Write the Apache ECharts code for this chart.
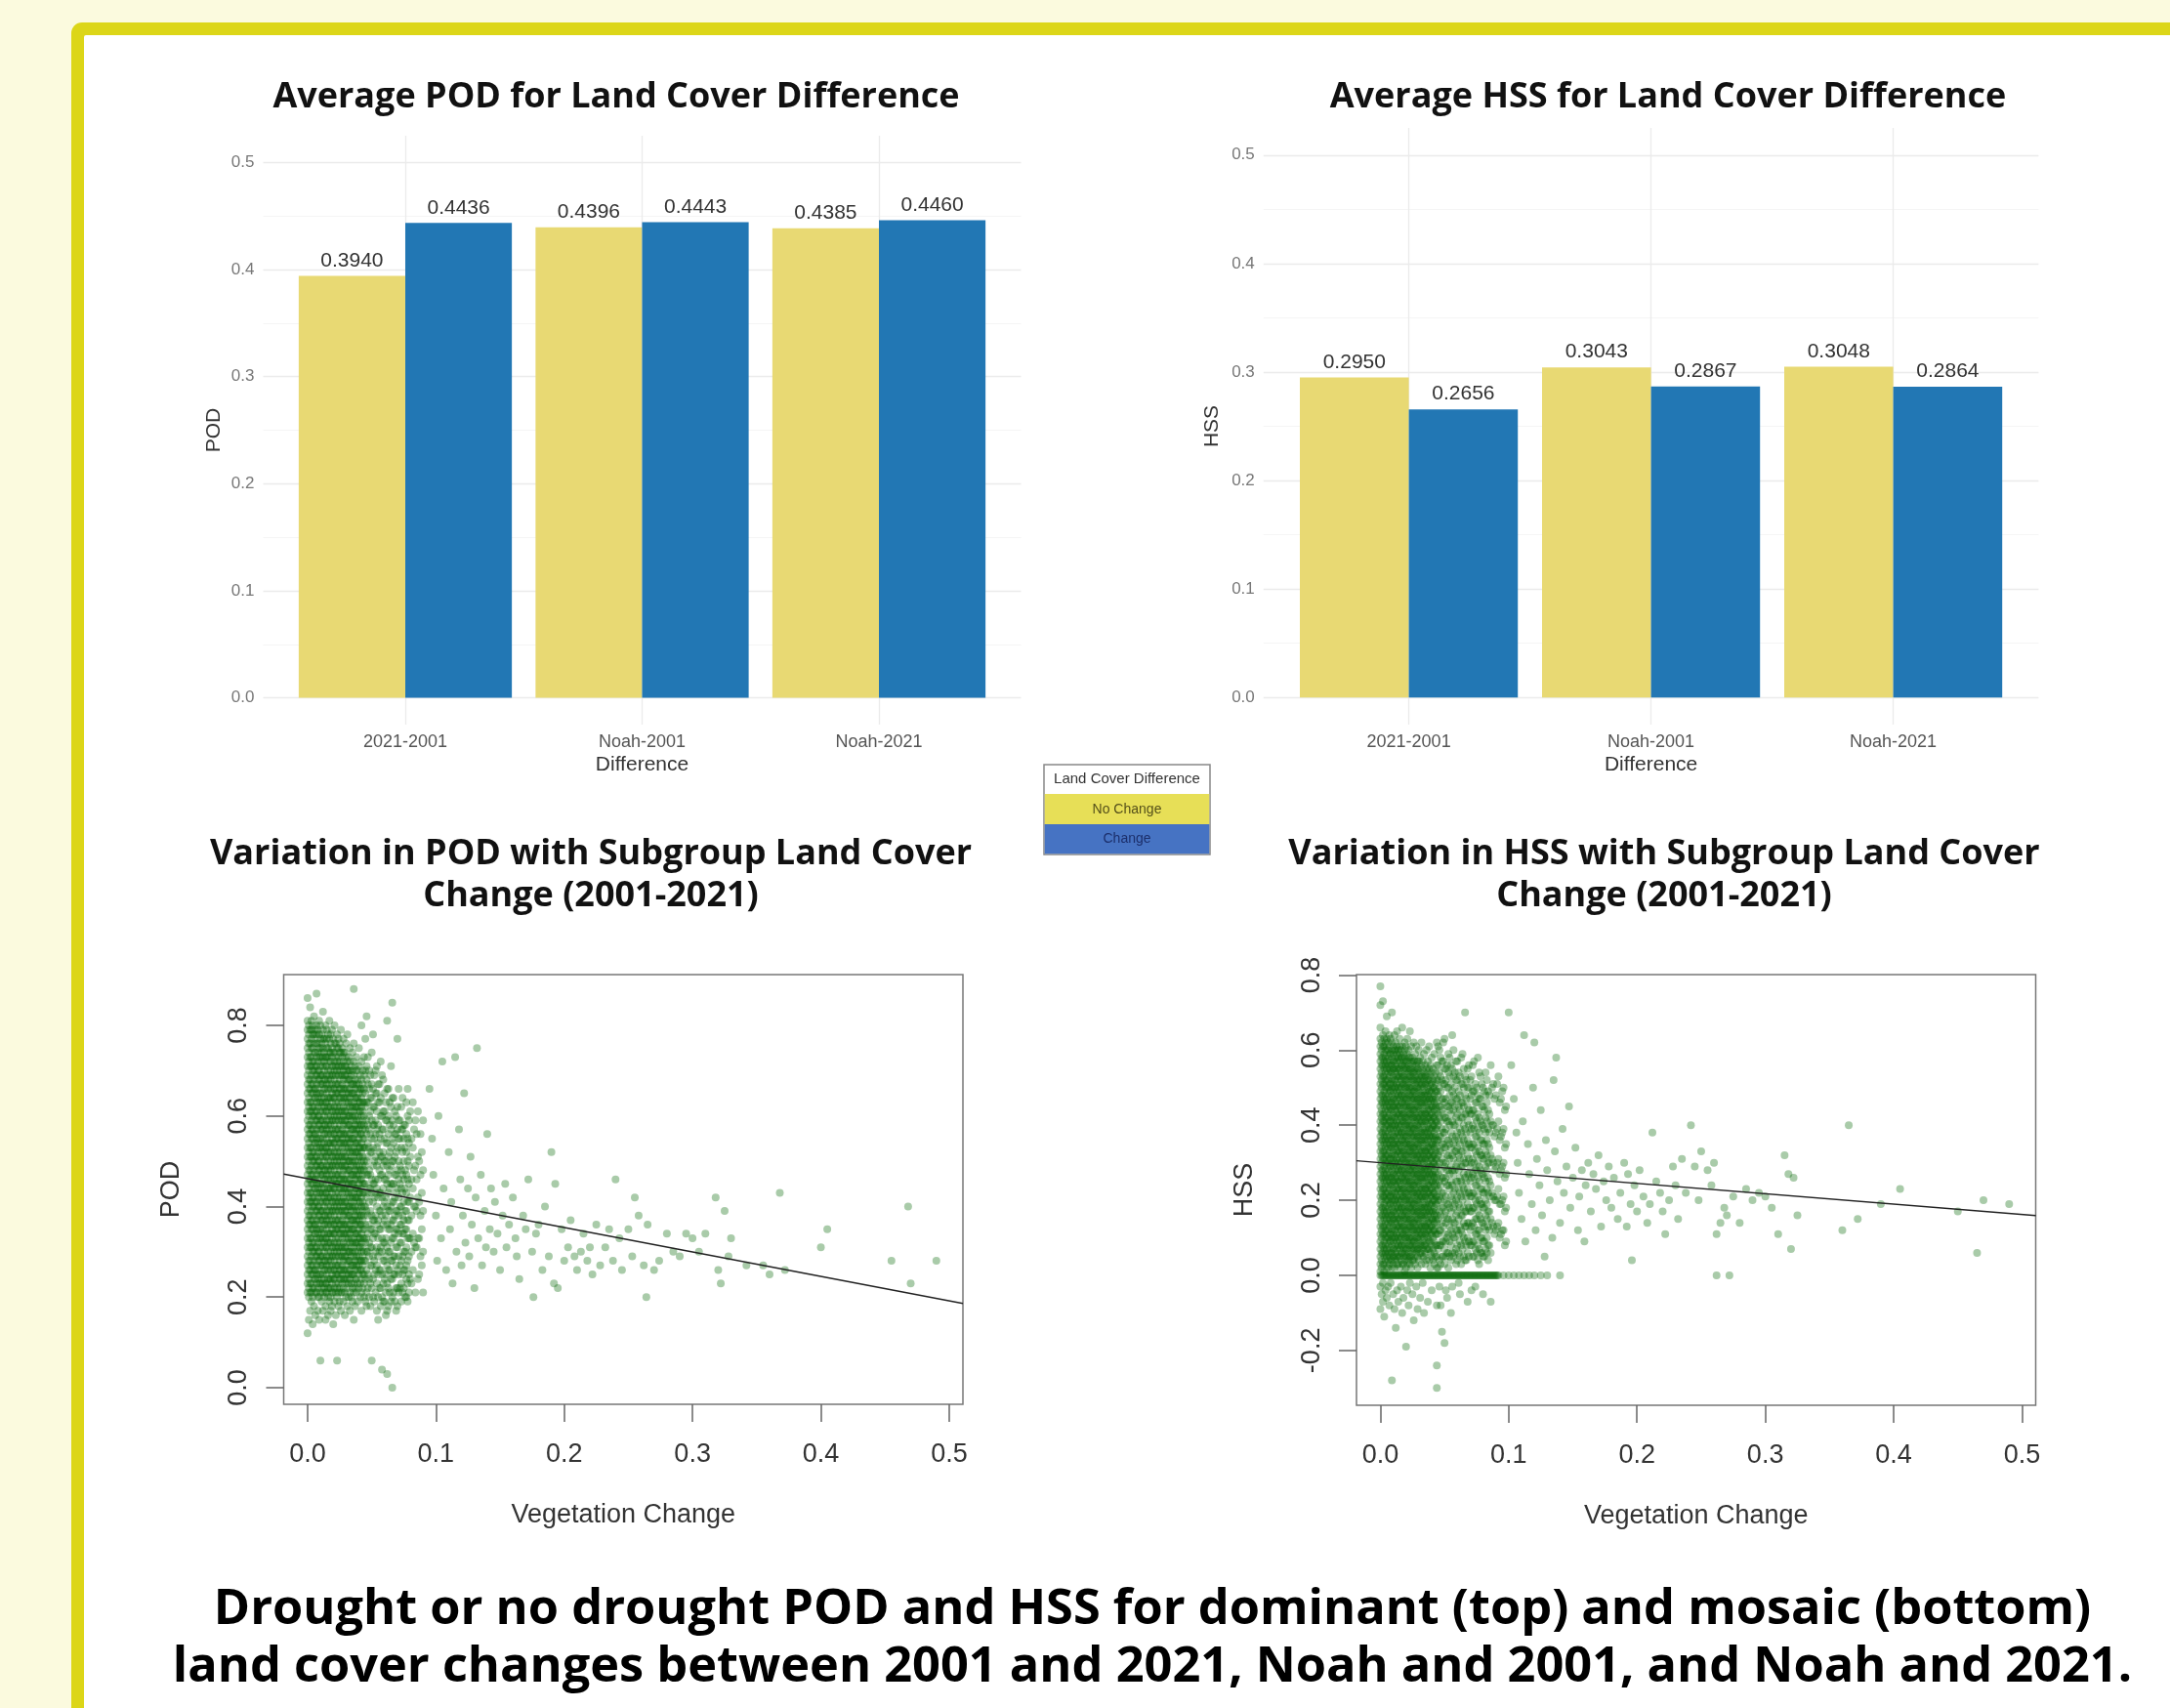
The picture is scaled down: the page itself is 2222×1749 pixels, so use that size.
<!DOCTYPE html>
<html><head><meta charset="utf-8">
<script src="https://cdn.jsdelivr.net/npm/echarts@6/dist/echarts.min.js"></script>
<style>html,body{margin:0;padding:0;background:#FBFADE;}#c{width:2222px;height:1749px;}</style>
</head><body><div id="c"></div>
<script>
// ---------- data ----------
const categories = ['2021-2001', 'Noah-2001', 'Noah-2021'];
const podNoChange = [0.3940, 0.4396, 0.4385];
const podChange   = [0.4436, 0.4443, 0.4460];
const hssNoChange = [0.2950, 0.3043, 0.3048];
const hssChange   = [0.2656, 0.2867, 0.2864];
const barTicks = [0, 0.1, 0.2, 0.3, 0.4, 0.5];
const barMinorTicks = [0.05, 0.15, 0.25, 0.35, 0.45];
const vegTicks = [0, 0.1, 0.2, 0.3, 0.4, 0.5];
const podTicks = [0, 0.2, 0.4, 0.6, 0.8];
const hssTicks = [-0.2, 0, 0.2, 0.4, 0.6, 0.8];
const podFit = [0.4616, -0.54];   // intercept, slope
const hssFit = [0.300, -0.276];   // intercept, slope

// POD scatter: columns [vegetation change x1000, [POD x100 ...]]
const podColumns = [
[0,[86,81,79,77,75,73,71,69,67,65,63,61,59,57,55,53,51,49,47,45,43,41,39,37,35,33,31,29,27,25,23,21,12]],
[1,[80,78,76,74,72,70,68,66,64,62,60,58,56,54,52,50,48,46,44,42,40,38,36,34,32,30,28,26,24,22,20,15]],
[2,[84,79,76,73,71,68,66,63,61,58,56,53,51,48,46,43,41,38,36,33,31,28,26,23,21,17]],
[3,[81,79,77,75,73,71,69,67,65,63,61,59,57,55,53,51,49,47,45,43,41,39,37,35,33,31,29,27,25,23,21,19]],
[4,[80,78,75,72,70,67,65,62,60,57,55,52,50,47,45,42,40,37,35,32,30,27,25,22,20,14]],
[5,[82,78,76,74,72,70,68,66,64,62,60,58,56,54,52,50,48,46,44,42,40,38,36,34,32,30,28,26,24,22,18]],
[6,[79,77,74,71,69,66,64,61,59,56,54,51,49,46,44,41,39,36,34,31,29,26,24,21,16]],
[7,[87,80,78,76,73,71,69,67,65,63,61,59,57,55,53,51,49,47,45,43,41,39,37,35,33,31,29,27,25,23,21]],
[8,[79,76,74,72,70,68,66,64,62,60,58,56,54,52,50,48,46,44,42,40,38,36,34,32,30,28,26,24,22,20,17]],
[9,[81,78,75,73,70,68,65,63,60,58,55,53,50,48,45,43,40,38,35,33,30,28,25,23,20,15]],
[10,[80,77,75,73,71,69,67,65,63,61,59,57,55,53,51,49,47,45,43,41,39,37,35,33,31,29,27,25,23,21,6]],
[11,[78,76,74,72,69,67,64,62,59,57,54,52,49,47,44,42,39,37,34,32,29,27,24,22,19]],
[12,[83,79,77,75,73,71,69,67,65,63,61,59,57,55,53,51,49,47,45,43,41,39,37,35,33,31,29,27,25,23,21,17]],
[13,[77,74,72,70,68,66,64,62,60,58,56,54,52,50,48,46,44,42,40,38,36,34,32,30,28,26,24,22,20]],
[14,[80,76,73,71,68,66,63,61,58,56,53,51,48,46,43,41,38,36,33,31,28,26,23,21,18,15]],
[15,[79,77,75,73,71,69,67,65,63,61,59,57,55,53,51,49,47,45,43,41,39,37,35,33,31,29,27,25,23,21]],
[16,[78,75,73,70,68,66,64,62,60,58,56,54,52,50,48,46,44,42,40,38,36,34,32,30,28,26,24,22,20,16]],
[17,[81,77,74,72,69,67,64,62,59,57,54,52,49,47,44,42,39,37,34,32,29,27,24,22,19]],
[18,[78,76,74,72,70,68,66,64,62,60,58,56,54,52,50,48,46,44,42,40,38,36,34,32,30,28,26,24,22,20,17]],
[19,[79,75,73,71,69,67,65,63,61,59,57,55,53,51,49,47,45,43,41,39,37,35,33,31,29,27,25,23,21,18]],
[20,[77,74,71,69,66,64,61,59,56,54,51,49,46,44,41,39,36,34,31,29,26,24,21,14]],
[21,[80,76,74,72,70,68,66,64,62,60,58,56,54,52,50,48,46,44,42,40,38,36,34,32,30,28,26,24,22,19]],
[22,[76,73,71,69,67,65,63,61,59,57,55,53,51,49,47,45,43,41,39,37,35,33,31,29,27,25,23,21,16]],
[23,[78,75,72,70,67,65,62,60,57,55,52,50,47,45,42,40,37,35,32,30,27,25,22,20,6]],
[24,[77,75,73,71,69,67,65,63,61,59,57,55,53,51,49,47,45,43,41,39,37,35,33,31,29,27,25,23,21,18]],
[25,[76,74,72,70,68,66,64,62,60,58,56,54,52,50,48,46,44,42,40,38,36,34,32,30,28,26,24,22,19]],
[26,[79,74,71,69,66,64,61,59,56,54,51,49,46,44,41,39,36,34,31,29,26,24,21,17]],
[27,[75,73,71,69,67,65,63,61,59,57,55,53,51,49,47,45,43,41,39,37,35,33,31,29,27,25,23,21]],
[28,[77,74,72,70,68,66,64,62,60,58,56,54,52,50,48,46,44,42,40,38,36,34,32,30,28,26,24,22,19]],
[29,[74,71,69,66,64,61,59,56,54,51,49,46,44,41,39,36,34,31,29,26,24,21,16]],
[30,[76,73,71,69,67,65,63,61,59,57,55,53,51,49,47,45,43,41,39,37,35,33,31,29,27,25,23,20]],
[31,[78,72,70,68,66,64,62,60,58,56,54,52,50,48,46,44,42,40,38,36,34,32,30,28,26,24,22,18]],
[32,[73,70,68,65,63,60,58,55,53,50,48,45,43,40,38,35,33,30,28,25,23,20]],
[33,[75,72,70,68,66,64,62,60,58,56,54,52,50,48,46,44,42,40,38,36,34,32,30,28,26,24,21,17]],
[34,[71,69,67,65,63,61,59,57,55,53,51,49,47,45,43,41,39,37,35,33,31,29,27,25,23,20]],
[35,[74,70,67,65,62,60,57,55,52,50,47,45,42,40,37,35,32,30,27,25,22,19]],
[36,[88,76,72,69,67,65,63,61,59,57,55,53,51,49,47,45,43,41,39,37,35,33,31,29,27,25,23,21,15]],
[37,[71,68,66,64,62,60,58,56,54,52,50,48,46,44,42,40,38,36,34,32,30,28,26,24,22,18]],
[38,[73,70,67,64,62,59,57,54,52,49,47,44,42,39,37,34,32,29,27,24,21]],
[39,[70,68,66,64,62,60,58,56,54,52,50,48,46,44,42,40,38,36,34,32,30,28,26,23,19]],
[40,[75,71,67,65,63,61,59,57,55,53,51,49,47,45,43,41,39,37,35,33,31,29,27,25,22]],
[41,[69,66,63,61,58,56,53,51,48,46,43,41,38,36,33,31,28,26,23,20]],
[42,[80,72,68,66,64,62,60,58,56,54,52,50,48,46,44,42,40,38,36,34,32,30,28,26,24,21,17]],
[43,[70,67,65,63,61,59,57,55,53,51,49,47,45,43,41,39,37,35,33,31,29,27,25,22]],
[44,[73,69,66,63,60,58,55,53,50,48,45,43,40,38,35,33,30,28,25,23,20]],
[45,[77,70,65,62,57,53,49,45,40,36,32,28,24,19]],
[46,[82,71,68,63,59,56,50,47,42,39,33,30,26,21,18]],
[47,[73,67,63,58,54,51,47,43,38,34,30,25,22]],
[48,[70,66,60,57,53,48,44,41,36,32,29,24,20]],
[49,[69,64,61,56,52,47,44,39,35,31,27,23,18]],
[50,[74,67,64,59,55,52,46,43,38,35,31,27,22,6]],
[51,[78,66,62,58,53,49,45,41,37,33,29,24,20]],
[52,[69,62,58,55,50,45,42,37,34,28,25,19]],
[53,[70,65,59,56,51,46,43,38,34,30,26,21]],
[54,[71,65,61,57,53,49,44,40,36,31,27,23,17]],
[55,[67,63,58,54,50,46,42,37,33,29,25,20,15]],
[56,[67,63,56,52,48,43,39,35,30,26,22]],
[57,[72,64,60,55,51,47,43,39,35,31,26,22,18]],
[58,[69,60,57,51,47,42,38,33,30,25,20,4]],
[59,[68,61,57,52,49,44,40,36,32,28,23,19]],
[60,[65,61,55,50,46,41,37,32,28,24,19]],
[61,[63,59,54,50,46,42,38,33,29,25,21,16]],
[62,[81,66,59,54,49,45,40,36,31,27,23,17,3]],
[63,[66,60,56,51,47,43,39,35,30,26,22,18]],
[64,[63,58,52,48,44,39,35,30,26,21]],
[65,[71,62,57,53,49,45,40,36,32,28,24,19]],
[66,[85,64,59,55,50,45,41,37,33,28,24,20,0]],
[67,[64,58,54,50,45,41,37,33,29,25,21]],
[68,[61,56,51,47,42,38,34,29,25,19]],
[69,[60,56,52,47,43,39,35,31,27,22,17]],
[70,[77,62,57,53,48,44,39,35,31,26,22,18]],
[71,[66,59,55,50,46,42,38,34,29,25,21]],
[72,[59,55,49,45,40,36,32,27,22]],
[73,[62,57,53,48,44,40,36,32,28,23,19]],
[74,[64,57,52,47,43,38,34,29,25,21]],
[75,[58,55,50,46,41,37,34,30,26,22]],
[76,[58,53,48,44,39,35,30,26,20]],
[77,[63,56,52,47,43,39,35,31,27,24,20]],
[78,[66,60,55,50,46,41,37,33,28,23,19]],
[79,[59,54,49,45,41,37,33,29,25,21]],
[80,[61,51,42,33,24]],
[81,[55,46,38,30,23]],
[82,[63,53,44,34,26]],
[83,[57,48,40,32]],
[84,[59,49,40,31,21]],
[85,[56,46,39,31]],
[86,[61,51,42,33,24]],
[87,[50,41,33,25]],
[88,[56,47,38,29]],
[89,[52,43,35,27]],
[90,[59,48,39,30,21]]
];
// POD scatter: individual points [x1000, y100]
const podPoints = [
[95,66],[97,55],[98,47],[100,38],[101,28],[102,60],[104,33],[105,72],[106,44],[108,26],[110,52],[111,35],[112,41],[113,23],[115,73],[116,30],[118,57],[119,46],[120,27],[121,38],[122,65],[123,32],[125,44],[126,29],[127,51],[128,36],[130,22],[131,42],[132,75],[133,33],[135,47],[136,27],[138,39],[139,31],[140,56],[142,35],[143,44],[145,30],[146,41],[148,34],[150,26],[152,38],[154,45],[155,31],[157,36],[160,42],[162,33],[163,29],[165,24],[168,38],[170,35],[172,46],[175,30],[176,20],[178,34],[180,36],[183,26],[185,40],[188,29],[190,52],[192,23],[193,45],[195,22],[198,35],[200,28],[203,31],[205,37],[208,29],[210,26],[213,30],[215,34],[218,28],[220,31],[222,25],[225,36],[228,27],[232,31],[235,35],[238,28],[240,46],[243,33],[245,26],[250,35],[253,29],[255,42],[258,38],[262,27],[264,20],[265,36],[270,26],[274,28],[280,34],[285,30],[290,29],[295,34],[300,33],[305,30],[310,34],[318,42],[320,26],[322,23],[325,39],[328,29],[330,33],[342,27],[355,27],[360,25],[368,43],[372,26],[400,31],[405,35],[455,28],[468,40],[470,23],[490,28]
];

// HSS scatter: columns [x1000, [HSS x100 ...]]
const hssColumns = [
[0,[77,72,66,63,61,59,57,55,53,51,49,47,45,43,41,39,37,35,33,31,29,27,25,23,21,19,17,15,13,11,9,7,5,3,1,-3,-9]],
[1,[62,60,58,56,54,52,50,48,46,44,42,40,38,36,34,32,30,28,26,24,22,20,18,16,14,12,10,8,6,4,2,-5]],
[2,[73,64,61,58,56,53,51,48,46,43,41,38,36,33,31,28,26,23,21,18,16,13,11,8,6,3,-2,-7]],
[3,[63,61,59,57,55,53,51,49,47,45,43,41,39,37,35,33,31,29,27,25,23,21,19,17,15,13,11,9,7,5,3,1,-11]],
[4,[65,62,60,58,56,54,52,50,48,46,44,42,40,38,36,34,32,30,28,26,24,22,20,18,16,14,12,10,8,6,4,-4]],
[5,[69,63,60,57,55,52,50,47,45,42,40,37,35,32,30,27,25,22,20,17,15,12,10,7,5,2,-6]],
[6,[62,60,58,56,54,52,50,48,46,44,42,40,38,36,34,32,30,28,26,24,22,20,18,16,14,12,10,8,6,4,2,-3]],
[7,[64,61,59,57,55,53,51,49,47,45,43,41,39,37,35,33,31,29,27,25,23,21,19,17,15,13,11,9,7,5,3,-8]],
[8,[63,59,56,54,51,49,46,44,41,39,36,34,31,29,26,24,21,19,16,14,11,9,6,4,-2]],
[9,[70,62,60,58,56,54,52,50,48,46,44,42,40,38,36,34,32,30,28,26,24,22,20,18,16,14,12,10,8,6,4,2,-28]],
[10,[61,59,57,55,53,51,49,47,45,43,41,39,37,35,33,31,29,27,25,23,21,19,17,15,13,11,9,7,5,3,-5]],
[11,[64,60,57,55,52,50,47,45,42,40,37,35,32,30,27,25,22,20,17,15,12,10,7,5,2,-9]],
[12,[62,60,58,56,54,52,50,48,46,44,42,40,38,36,34,32,30,28,26,24,22,20,18,16,14,12,10,8,6,4,-14]],
[13,[65,61,59,57,55,53,51,49,47,45,43,41,39,37,35,33,31,29,27,25,23,21,19,17,15,13,11,9,7,5,3,-4]],
[14,[60,58,55,53,50,48,45,43,40,38,35,33,30,28,25,23,20,18,15,13,10,8,5,3,-7]],
[15,[63,61,59,57,55,53,51,49,47,45,43,41,39,37,35,33,31,29,27,25,23,21,19,17,15,13,11,9,7,5,2]],
[16,[60,58,56,54,52,50,48,46,44,42,40,38,36,34,32,30,28,26,24,22,20,18,16,14,12,10,8,6,4,-3]],
[17,[66,61,58,56,53,51,48,46,43,41,38,36,33,31,28,26,23,21,18,16,13,11,8,6,3,-10]],
[18,[59,57,55,53,51,49,47,45,43,41,39,37,35,33,31,29,27,25,23,21,19,17,15,13,11,9,7,5,3,-6]],
[19,[62,60,58,56,54,52,50,48,46,44,42,40,38,36,34,32,30,28,26,24,22,20,18,16,14,12,10,8,6,4,1]],
[20,[61,57,55,52,50,47,45,42,40,37,35,32,30,27,25,22,20,17,15,12,10,7,5,2,-19]],
[21,[63,59,57,55,53,51,49,47,45,43,41,39,37,35,33,31,29,27,25,23,21,19,17,15,13,11,9,7,5,3,-4]],
[22,[60,58,56,54,52,50,48,46,44,42,40,38,36,34,32,30,28,26,24,22,20,18,16,14,12,10,8,6,4,-8]],
[23,[65,58,55,53,50,48,45,43,40,38,35,33,30,28,25,23,20,18,15,13,10,8,5,3,-2]],
[24,[61,57,55,53,51,49,47,45,43,41,39,37,35,33,31,29,27,25,23,21,19,17,15,13,11,9,7,5,2]],
[25,[58,56,54,52,50,48,46,44,42,40,38,36,34,32,30,28,26,24,22,20,18,16,14,12,10,8,6,4,-5]],
[26,[62,57,54,52,49,47,44,42,39,37,34,32,29,27,24,22,19,17,14,12,9,7,4,-12]],
[27,[59,57,55,53,51,49,47,45,43,41,39,37,35,33,31,29,27,25,23,21,19,17,15,13,11,9,7,5,3]],
[28,[61,56,54,52,50,48,46,44,42,40,38,36,34,32,30,28,26,24,22,20,18,16,14,12,10,8,6,-3]],
[29,[57,55,52,50,47,45,42,40,37,35,32,30,27,25,22,20,17,15,12,10,7,5,2,-9]],
[30,[60,57,55,53,51,49,47,45,43,41,39,37,35,33,31,29,27,25,23,21,19,17,15,13,11,9,7,4]],
[31,[58,54,52,50,48,46,44,42,40,38,36,34,32,30,28,26,24,22,20,18,16,14,12,10,8,6,-6]],
[32,[62,56,53,51,48,46,43,41,38,36,33,31,28,26,23,21,18,16,13,11,8,6,3]],
[33,[57,55,53,51,49,47,45,43,41,39,37,35,33,31,29,27,25,23,21,19,17,15,13,11,9,7,5,-2]],
[34,[59,54,52,50,48,46,44,42,40,38,36,34,32,30,28,26,24,22,20,18,16,14,12,10,8,5,-10]],
[35,[56,53,51,48,46,43,41,38,36,33,31,28,26,23,21,18,16,13,11,8,6,3]],
[36,[60,55,53,51,49,47,45,43,41,39,37,35,33,31,29,27,25,23,21,19,17,15,13,11,9,7,4]],
[37,[57,54,52,50,48,46,44,42,40,38,36,34,32,30,28,26,24,22,20,18,16,14,12,10,7,-7]],
[38,[61,55,52,49,47,44,42,39,37,34,32,29,27,24,22,19,17,14,12,9,7,4]],
[39,[56,53,51,49,47,45,43,41,39,37,35,33,31,29,27,25,23,21,19,17,15,13,11,9,6,2]],
[40,[58,54,51,49,47,45,43,41,39,37,35,33,31,29,27,25,23,21,19,17,15,13,11,8,5,-4]],
[41,[55,52,50,47,45,42,40,37,35,32,30,27,25,22,20,17,15,12,10,7,4]],
[42,[59,53,50,48,46,44,42,40,38,36,34,32,30,28,26,24,22,20,18,16,14,12,9,6,3]],
[43,[54,51,49,47,45,43,41,39,37,35,33,31,29,27,25,23,21,19,17,15,13,11,8,5]],
[44,[62,56,52,49,46,44,41,39,36,34,31,29,26,24,21,19,16,14,11,8,5,2,-8,-24,-30]],
[45,[61,56,52,48,43,40,36,32,27,23,20,15,11,7,2]],
[46,[60,54,50,45,42,37,33,30,25,21,17,12,8,4,-3]],
[47,[58,53,49,45,41,37,33,28,24,20,16,12,8,3,-8]],
[48,[57,52,47,44,39,35,31,26,22,18,14,9,5,-15]],
[49,[62,57,51,47,43,38,35,30,26,22,18,13,9,5]],
[50,[63,55,51,46,42,38,34,29,25,20,16,11,7,3,-18]],
[51,[55,52,47,42,39,34,30,26,21,17,14,9,5,-4]],
[52,[56,50,45,41,36,32,28,24,19,15,10,6,-6]],
[53,[59,54,50,45,41,36,32,28,24,19,15,11,6,2]],
[54,[58,53,48,44,40,35,31,27,23,18,13,9,5]],
[55,[56,51,46,43,38,34,29,25,21,17,12,8,4,-10]],
[56,[64,55,49,46,41,37,32,28,24,20,15,11,6,-3]],
[57,[60,53,48,44,40,35,31,27,22,18,14,10,5]],
[58,[54,50,45,40,36,33,28,23,19,14,10,6]],
[59,[57,52,47,42,37,33,29,25,20,16,12,7,3]],
[60,[57,52,47,43,38,34,30,25,21,17,12,8,4]],
[61,[54,49,45,41,36,32,28,23,19,15,11,6,-2]],
[62,[53,48,44,39,35,31,26,22,18,13,9,5,-5]],
[63,[58,51,46,42,38,33,29,25,21,16,12,8,3]],
[64,[59,51,46,42,37,33,29,24,20,16,11,7]],
[65,[55,50,45,40,36,31,27,23,18,14,10,5]],
[66,[70,53,48,43,39,35,30,26,22,17,13,9,4]],
[67,[52,47,43,38,34,30,25,21,17,13,8,4]],
[68,[55,50,45,41,36,32,27,23,19,14,10,6,-7]],
[69,[56,50,44,40,35,31,27,22,18,14,9,5]],
[70,[52,47,43,38,34,29,25,21,17,12,8]],
[71,[53,48,43,39,34,30,26,21,17,13,8,-4]],
[72,[56,49,44,40,35,31,27,22,18,14,9,5]],
[73,[57,49,44,39,35,30,26,22,18,13,9,5]],
[74,[51,46,42,37,33,28,24,20,15,11,7,-3]],
[75,[50,46,41,37,32,28,24,19,15,11,6]],
[76,[58,48,43,39,34,30,26,21,17,12,8,4]],
[77,[54,47,42,38,33,29,25,20,16,12,7,3]],
[78,[53,47,41,36,32,28,23,19,15,10,6]],
[79,[51,45,40,36,32,27,23,19,14,10,6]],
[80,[50,45,40,35,31,27,22,18,14,9,5,-5]],
[81,[49,44,39,35,31,26,22,18,13,9,5]],
[82,[54,48,42,38,33,29,25,20,16,12,7]],
[83,[52,46,41,36,32,28,23,19,15,10,6]],
[84,[49,44,39,35,30,26,22,17,13,8,4]],
[85,[48,43,38,34,30,25,21,17,12,8]],
[86,[56,41,32,24,15,6,-7]],
[87,[50,40,31,22,14]],
[88,[51,40,30,21,13]],
[89,[47,37,28,20,11]],
[90,[48,38,29,20,12]],
[91,[51,39,30,21,13]],
[92,[53,41,31,23,14]],
[93,[46,36,27,19,10]],
[94,[47,37,28,19,11]],
[95,[49,38,29,20,12]],
[96,[50,39,30,21,12]],
[97,[44,34,26,17,8]],
[98,[45,35,27,18,9]]
];
// HSS scatter: points with HSS exactly 0, x1000
const hssZeroX = [0,1,2,3,4,5,6,7,8,9,10,11,12,13,14,15,16,17,18,19,20,21,22,23,24,25,26,27,28,29,30,31,32,33,34,35,36,37,38,39,40,41,42,43,44,45,46,47,48,49,50,51,52,53,54,55,56,57,58,59,60,61,62,63,64,65,66,67,68,69,70,71,72,73,74,75,76,77,78,79,80,81,82,83,84,85,86,87,88,89,90,91,92,96,100,104,108,112,116,120,125,130,140,262,272];
// HSS scatter: individual points [x1000, y100]
const hssPoints = [
[100,70],[102,56],[104,47],[106,38],[107,30],[108,22],[110,15],[111,41],[112,64],[113,9],[115,35],[116,27],[118,19],[119,50],[120,62],[121,12],[122,31],[124,24],[125,44],[126,16],[128,5],[129,36],[130,28],[132,20],[134,10],[135,52],[136,33],[137,58],[138,25],[140,14],[142,39],[143,22],[145,29],[147,45],[148,18],[150,26],[152,34],[154,12],[155,21],[157,28],[159,9],[160,24],[162,30],[164,17],[166,27],[168,23],[170,32],[172,13],[174,25],[176,20],[178,29],[180,18],[182,26],[185,15],[187,22],[190,30],[192,13],[193,27],[195,19],[196,4],[198,24],[200,17],[202,28],[205,21],[208,14],[210,19],[212,38],[215,25],[218,22],[220,17],[222,11],[225,20],[228,29],[230,24],[232,15],[235,31],[238,22],[242,40],[245,29],[248,20],[250,33],[255,28],[258,24],[260,30],[262,11],[265,14],[268,18],[270,16],[275,21],[280,14],[285,23],[290,20],[295,22],[300,21],[305,18],[310,11],[315,32],[318,27],[320,7],[322,26],[325,16],[360,12],[365,40],[372,15],[390,19],[405,23],[450,17],[465,6],[470,20],[490,19]
];

// ---------- build ----------
function expand(cols, pts, zeroX) {
  const out = [];
  cols.forEach(([x, ys]) => ys.forEach(y => out.push([x / 1000, y / 100])));
  pts.forEach(([x, y]) => out.push([x / 1000, y / 100]));
  (zeroX || []).forEach(x => out.push([x / 1000, 0]));
  return out;
}
const podData = expand(podColumns, podPoints);
const hssData = expand(hssColumns, hssPoints, hssZeroX);

const vegMin = -0.0186, vegMax = 0.5107;
const fitLine = (f) => [[vegMin, f[0] + f[1] * vegMin], [vegMax, f[0] + f[1] * vegMax]];

const SANS = '"Liberation Sans", Arial, sans-serif';
const TITLE = '"Open Sans", "Noto Sans", sans-serif';
const YELLOW = '#E8D973', BLUE = '#2277B4';
const GRID_MAJOR = '#EBEBEB', GRID_MINOR = '#F5F5F5';

function barX(gi) {
  return {
    type: 'value', gridIndex: gi, min: 0.4, max: 3.6,
    axisLine: { show: false, onZero: false },
    axisTick: { show: false, customValues: [1, 2, 3] },
    axisLabel: { customValues: [1, 2, 3], formatter: v => categories[Math.round(v) - 1],
      fontFamily: SANS, fontSize: 18, color: '#555', margin: 9 },
    splitLine: { show: true, lineStyle: { color: GRID_MAJOR, width: 1.3 } },
    name: 'Difference', nameLocation: 'middle', nameGap: 31,
    nameTextStyle: { fontFamily: SANS, fontSize: 21, color: '#333' }
  };
}
function barYMajor(gi, name, gap) {
  return {
    type: 'value', gridIndex: gi, min: -0.025, max: 0.525, position: 'left',
    axisLine: { show: false, onZero: false },
    axisTick: { show: false, customValues: barTicks },
    axisLabel: { customValues: barTicks, formatter: v => v.toFixed(1),
      fontFamily: SANS, fontSize: 17, color: '#777', margin: 9 },
    splitLine: { show: true, lineStyle: { color: GRID_MAJOR, width: 1.3 } },
    name: name, nameLocation: 'middle', nameGap: gap,
    nameTextStyle: { fontFamily: SANS, fontSize: 21, color: '#333' }
  };
}
function barYMinor(gi) {
  return {
    type: 'value', gridIndex: gi, min: -0.025, max: 0.525,
    axisLine: { show: false, onZero: false },
    axisTick: { show: false, customValues: barMinorTicks },
    axisLabel: { show: false },
    splitLine: { show: true, lineStyle: { color: GRID_MINOR, width: 1 } }
  };
}
function scatX(gi) {
  return {
    type: 'value', gridIndex: gi, min: vegMin, max: vegMax,
    axisLine: { show: false, onZero: false },
    axisTick: { show: true, customValues: vegTicks, length: 18, lineStyle: { color: '#666', width: 1.5 } },
    axisLabel: { customValues: vegTicks, formatter: v => v.toFixed(1),
      fontFamily: SANS, fontSize: 27, color: '#333', margin: 38 },
    splitLine: { show: false },
    name: 'Vegetation Change', nameLocation: 'middle', nameGap: 100,
    nameTextStyle: { fontFamily: SANS, fontSize: 27, color: '#333' }
  };
}
function scatY(gi, min, max, ticks, name) {
  return {
    type: 'value', gridIndex: gi, min: min, max: max,
    axisLine: { show: false, onZero: false },
    axisTick: { show: true, customValues: ticks, length: 18, lineStyle: { color: '#666', width: 1.5 } },
    axisLabel: { customValues: ticks, formatter: v => v.toFixed(1), rotate: 90,
      fontFamily: SANS, fontSize: 27, color: '#333', margin: 32 },
    splitLine: { show: false },
    name: name, nameLocation: 'middle', nameGap: 101,
    nameTextStyle: { fontFamily: SANS, fontSize: 27, color: '#333' }
  };
}
const barLabel = {
  show: true, position: 'top', distance: 5,
  formatter: p => p.value[1].toFixed(4),
  fontFamily: SANS, fontSize: 21, color: '#333'
};
function barSeries(name, vals, xi, yi, color) {
  return {
    type: 'bar', name: name, xAxisIndex: xi, yAxisIndex: yi,
    data: vals.map((v, i) => [i + 1, v]),
    barWidth: '45%', barGap: '0%',
    itemStyle: { color: color }, label: barLabel
  };
}
const pointStyle = { color: 'rgba(0,100,0,0.42)' };

const option = {
  backgroundColor: '#FBFADE',
  animation: false,
  textStyle: { fontFamily: SANS },
  grid: [
    { left: 269.5, top: 139, width: 776, height: 603 },
    { left: 1293.8, top: 131, width: 793.6, height: 611 },
    { left: 290.5, top: 998, width: 695.5, height: 440, show: true, borderColor: '#777', borderWidth: 1.5, backgroundColor: 'transparent' },
    { left: 1389, top: 998, width: 695.5, height: 441, show: true, borderColor: '#777', borderWidth: 1.5, backgroundColor: 'transparent' }
  ],
  xAxis: [ barX(0), barX(1), scatX(2), scatX(3) ],
  yAxis: [
    barYMajor(0, 'POD', 39.5), barYMinor(0),
    barYMajor(1, 'HSS', 42), barYMinor(1),
    scatY(2, -0.0367, 0.912, podTicks, 'POD'),
    scatY(3, -0.346, 0.801, hssTicks, 'HSS')
  ],
  series: [
    barSeries('No Change', podNoChange, 0, 0, YELLOW),
    barSeries('Change', podChange, 0, 0, BLUE),
    barSeries('No Change', hssNoChange, 1, 2, YELLOW),
    barSeries('Change', hssChange, 1, 2, BLUE),
    { type: 'scatter', name: 'POD', xAxisIndex: 2, yAxisIndex: 4, data: podData,
      symbol: 'circle', symbolSize: 8, itemStyle: pointStyle, progressive: 0, large: false, silent: true },
    { type: 'line', xAxisIndex: 2, yAxisIndex: 4, data: fitLine(podFit), symbol: 'none',
      lineStyle: { color: '#222', width: 1.4 }, silent: true, z: 5 },
    { type: 'scatter', name: 'HSS', xAxisIndex: 3, yAxisIndex: 5, data: hssData,
      symbol: 'circle', symbolSize: 8, itemStyle: pointStyle, progressive: 0, large: false, silent: true },
    { type: 'line', xAxisIndex: 3, yAxisIndex: 5, data: fitLine(hssFit), symbol: 'none',
      lineStyle: { color: '#222', width: 1.4 }, silent: true, z: 5 }
  ],
  graphic: { elements: [
    { type: 'rect', z: -100, shape: { x: 73, y: 23, width: 2300, height: 1900, r: [11, 0, 0, 0] }, style: { fill: '#DCD618' } },
    { type: 'rect', z: -99, shape: { x: 86, y: 36, width: 2300, height: 1900, r: [2, 0, 0, 0] }, style: { fill: '#FFFFFF' } },
    { type: 'text', x: 631, y: 100, style: { text: 'Average POD for Land Cover Difference', font: 'bold 36px ' + TITLE, fill: '#111', align: 'center', verticalAlign: 'middle' } },
    { type: 'text', x: 1708, y: 100, style: { text: 'Average HSS for Land Cover Difference', font: 'bold 36px ' + TITLE, fill: '#111', align: 'center', verticalAlign: 'middle' } },
    { type: 'text', x: 605, y: 896, style: { text: 'Variation in POD with Subgroup Land Cover\nChange (2001-2021)', font: 'bold 36px ' + TITLE, lineHeight: 43, fill: '#111', align: 'center', verticalAlign: 'middle' } },
    { type: 'text', x: 1704, y: 896, style: { text: 'Variation in HSS with Subgroup Land Cover\nChange (2001-2021)', font: 'bold 36px ' + TITLE, lineHeight: 43, fill: '#111', align: 'center', verticalAlign: 'middle' } },
    { type: 'text', x: 1180, y: 1678, style: { text: 'Drought or no drought POD and HSS for dominant (top) and mosaic (bottom)\nland cover changes between 2001 and 2021, Noah and 2001, and Noah and 2021.', font: 'bold 50.5px ' + TITLE, lineHeight: 59, fill: '#000', align: 'center', verticalAlign: 'middle' } },
    { type: 'group', x: 1069, y: 783, children: [
      { type: 'rect', shape: { x: 0, y: 0, width: 170, height: 92 }, style: { fill: '#fff', stroke: '#888', lineWidth: 1.5 } },
      { type: 'rect', shape: { x: 0.75, y: 30, width: 168.5, height: 31 }, style: { fill: '#E7DF57' } },
      { type: 'rect', shape: { x: 0.75, y: 61, width: 168.5, height: 30.25 }, style: { fill: '#4673C3' } },
      { type: 'text', x: 85, y: 15, style: { text: 'Land Cover Difference', font: '15px ' + SANS, fill: '#333', align: 'center', verticalAlign: 'middle' } },
      { type: 'text', x: 85, y: 46, style: { text: 'No Change', font: '14px ' + SANS, fill: '#55501A', align: 'center', verticalAlign: 'middle' } },
      { type: 'text', x: 85, y: 76.5, style: { text: 'Change', font: '14px ' + SANS, fill: '#1C2F6B', align: 'center', verticalAlign: 'middle' } }
    ] }
  ] }
};
const chart = echarts.init(document.getElementById('c'), null, { renderer: 'canvas' });
chart.setOption(option);
</script>
</body></html>
